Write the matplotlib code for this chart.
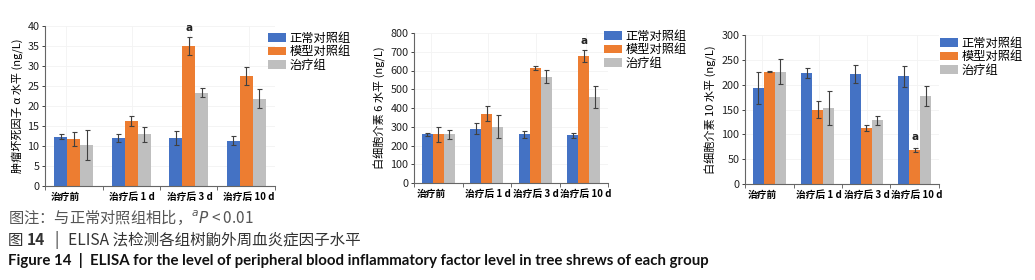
import matplotlib
matplotlib.use("Agg")
import matplotlib.pyplot as plt
import numpy as np

plt.rcParams['font.family'] = ['Noto Sans CJK SC', 'DejaVu Sans']

categories = ["治疗前", "治疗后 1 d", "治疗后 3 d", "治疗后 10 d"]
series_names = ["正常对照组", "模型对照组", "治疗组"]
colors = ["#4472C4", "#ED7D31", "#BFBFBF"]

# TNF-alpha
tnf_normal = [12.3, 12.0, 12.0, 11.3]
tnf_normal_err = [0.6, 1.0, 1.7, 1.1]
tnf_model = [11.8, 16.2, 35.0, 27.5]
tnf_model_err = [1.8, 1.3, 2.2, 2.2]
tnf_treat = [10.2, 12.9, 23.3, 21.8]
tnf_treat_err = [3.8, 1.8, 1.1, 2.4]

# IL-6
il6_normal = [259, 289, 260, 255]
il6_normal_err = [10, 30, 18, 13]
il6_model = [260, 370, 614, 677]
il6_model_err = [40, 40, 12, 34]
il6_treat = [261, 300, 568, 460]
il6_treat_err = [24, 62, 36, 58]

# IL-10
il10_normal = [194, 223, 221, 217]
il10_normal_err = [32, 10, 18, 21]
il10_model = [226, 150, 112, 68]
il10_model_err = [1.5, 17, 6, 4]
il10_treat = [226, 153, 128, 177]
il10_treat_err = [25, 35, 9, 20]

W, H = 1035, 280
fig = plt.figure(figsize=(W / 100, H / 100), dpi=100)


def px_axes(l, r, t, b):
    return fig.add_axes([l / W, 1 - b / H, (r - l) / W, (b - t) / H])


def draw_panel(ax, means, errs, ymax, ystep, ylabel, legend_xy, ann):
    x = np.arange(len(categories))
    w = 0.225
    for i, (m, e) in enumerate(zip(means, errs)):
        ax.bar(x + (i - 1) * w, m, width=w, color=colors[i], label=series_names[i],
               zorder=2, yerr=e, capsize=1.8,
               error_kw=dict(ecolor="#404040", elinewidth=0.8, capthick=0.8, zorder=3))
    ax.set_xlim(-0.5, len(categories) - 0.5)
    ax.set_ylim(0, ymax)
    ax.set_yticks(np.arange(0, ymax + ystep / 2, ystep))
    ax.tick_params(axis='y', labelsize=7.8, length=2.5, width=0.6, pad=1.5, colors="#222222")
    # labels slightly offset as in the original
    shift = np.array([-0.14, 0.02, 0.02, 0.05])
    ax.set_xticks(x + shift)
    ax.set_xticklabels(categories, fontsize=7, fontweight='bold')
    ax.tick_params(axis='x', length=0, pad=4)
    ax.set_xticks(np.arange(-0.5, len(categories), 1.0), minor=True)
    ax.tick_params(axis='x', which='minor', length=3, width=0.6, color="#555555")
    for s in ['top', 'right']:
        ax.spines[s].set_visible(False)
    for s in ['left', 'bottom']:
        ax.spines[s].set_color("#666666")
        ax.spines[s].set_linewidth(0.8)
    ax.grid(True, axis='both', color="#f3f3f3", linewidth=0.6, zorder=0)
    ax.set_axisbelow(True)
    ax.set_ylabel(ylabel, fontsize=8, labelpad=3)
    ax.legend(loc='upper left', bbox_to_anchor=legend_xy, bbox_transform=fig.transFigure,
              frameon=False, fontsize=8.8, handlelength=1.45, handleheight=0.75,
              handletextpad=0.3, labelspacing=0.02, borderpad=0, borderaxespad=0)
    gi, si, yv, box = ann
    kw = dict(ha='center', va='center', fontsize=7.5, fontweight='bold', color="#222222",
              family=['DejaVu Sans'])
    if box:
        kw['bbox'] = dict(facecolor='white', edgecolor='none', pad=1.0)
    ax.text(gi + (si - 1) * w, yv, "a", zorder=5, **kw)


ax1 = px_axes(45, 275, 26, 186)
draw_panel(ax1, [tnf_normal, tnf_model, tnf_treat],
           [tnf_normal_err, tnf_model_err, tnf_treat_err],
           40, 5, "肿瘤坏死因子 α 水平 (ng/L)", (268 / W, 1 - 32 / H), (2, 1, 39.6, False))

ax2 = px_axes(414, 608, 33, 183)
draw_panel(ax2, [il6_normal, il6_model, il6_treat],
           [il6_normal_err, il6_model_err, il6_treat_err],
           800, 100, "白细胞介素 6 水平 (ng/L)", (604 / W, 1 - 30 / H), (3, 1, 760, False))

ax3 = px_axes(745, 939, 35, 184)
draw_panel(ax3, [il10_normal, il10_model, il10_treat],
           [il10_normal_err, il10_model_err, il10_treat_err],
           300, 50, "白细胞介素 10 水平 (ng/L)", (940 / W, 1 - 37 / H), (3, 1, 95, True))

# captions
fig.text(8 / W, 1 - 217 / H, "图注：与正常对照组相比，$^{a}$$\\it{P}$ < 0.01", fontsize=11,
         color="#555555", va='center', ha='left')

renderer = fig.canvas.get_renderer()
pieces = [("图 ", 'normal', 0), ("14", 'bold', 9), ("|", 'normal', 10),
          ("ELISA 法检测各组树鼩外周血炎症因子水平", 'normal', 0)]
xpos = 8
for txt, wt, gap in pieces:
    t = fig.text(xpos / W, 1 - 240 / H, txt, fontsize=11.2, color="#333333", va='center',
                 ha='left', fontweight=wt)
    xpos = t.get_window_extent(renderer).x1 + gap

fig.text(8 / W, 1 - 261 / H,
         "Figure 14  |  ELISA for the level of peripheral blood inflammatory factor level in tree shrews of each group",
         fontsize=10.8, color="#111111", va='center', ha='left', fontweight='bold',
         family=['Lato', 'DejaVu Sans'])

fig.savefig("out.png", dpi=100)
